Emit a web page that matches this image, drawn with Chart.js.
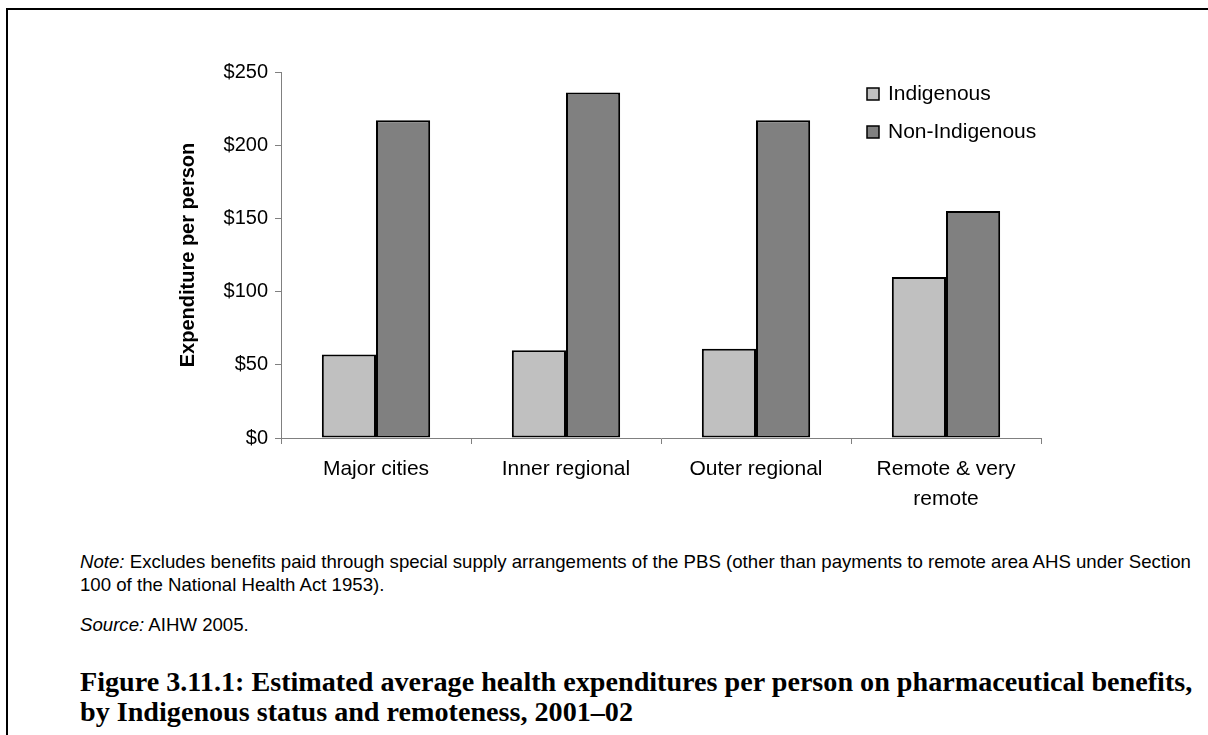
<!DOCTYPE html>
<html>
<head>
<meta charset="utf-8">
<script src="https://cdn.jsdelivr.net/npm/chart.js@4/dist/chart.umd.min.js"></script>
<style>
html,body{margin:0;padding:0;background:#fff;}
body{width:1208px;height:735px;position:relative;overflow:hidden;font-family:"Liberation Sans",Arial,sans-serif;color:#000;}
#frame{position:absolute;left:6px;top:8px;width:1220px;height:760px;border-left:2px solid #000;border-top:2px solid #000;}
#wrap{position:absolute;left:0;top:0;width:1208px;height:530px;}
.note{position:absolute;left:80px;font-size:18.5px;line-height:23px;white-space:nowrap;}
.note i{font-style:italic;}
#caption{position:absolute;left:80px;top:667px;font-family:"Liberation Serif",serif;font-weight:bold;font-size:24px;line-height:30px;white-space:nowrap;}
</style>
</head>
<body>
<div id="frame"></div>
<div id="wrap"><canvas id="c"></canvas></div>
<div class="note" id="note1" style="top:550px"><i>Note:</i> Excludes benefits paid through special supply arrangements of the PBS (other than payments to remote area AHS under Section<br>100 of the National Health Act 1953).</div>
<div class="note" id="note2" style="top:613px"><i>Source:</i> AIHW 2005.</div>
<div id="caption">Figure 3.11.1: Estimated average health expenditures per person on pharmaceutical benefits,<br>by Indigenous status and remoteness, 2001–02</div>
<script>
const categories = ["Major cities", "Inner regional", "Outer regional", ["Remote & very", "remote"]];
const seriesNames = ["Indigenous", "Non-Indigenous"];
const indigenous = [57, 60, 61, 110];
const nonIndigenous = [217, 236, 217, 155];
const yTicks = [0, 50, 100, 150, 200, 250];
const colors = ["#c0c0c0", "#808080"];

// fit the text block widths (text from x=80 to x=1193)
(function fitText() {
  const m = document.createElement('canvas').getContext('2d');
  const target = 1113;
  m.font = '16px "Liberation Sans"';
  const noteLine = 'Note: Excludes benefits paid through special supply arrangements of the PBS (other than payments to remote area AHS under Section';
  const ns = 16 * target / m.measureText(noteLine).width;
  document.getElementById('note1').style.fontSize = ns.toFixed(2) + 'px';
  document.getElementById('note2').style.fontSize = ns.toFixed(2) + 'px';
  m.font = 'bold 20px "Liberation Serif"';
  const capLine = 'Figure 3.11.1: Estimated average health expenditures per person on pharmaceutical benefits,';
  const cs = 20 * target / m.measureText(capLine).width;
  document.getElementById('caption').style.fontSize = cs.toFixed(2) + 'px';
})();

const legendPlugin = {
  id: 'insideLegend',
  afterDraw(chart) {
    const ctx = chart.ctx;
    ctx.save();
    ctx.font = '21px "Liberation Sans", Arial, sans-serif';
    ctx.textBaseline = 'middle';
    ctx.textAlign = 'left';
    chart.data.datasets.forEach((ds, i) => {
      const y = 94 + i * 38;
      ctx.fillStyle = ds.backgroundColor;
      ctx.fillRect(867, y - 6, 12, 12);
      ctx.strokeStyle = '#000';
      ctx.lineWidth = 1.5;
      ctx.strokeRect(867, y - 6, 12, 12);
      ctx.fillStyle = '#000';
      ctx.fillText(ds.label, 888, y);
    });
    ctx.restore();
  }
};

new Chart(document.getElementById('c'), {
  type: 'bar',
  data: {
    labels: categories,
    datasets: [
      { label: seriesNames[0], data: indigenous, backgroundColor: colors[0], borderColor: '#000', borderWidth: 2, borderSkipped: false },
      { label: seriesNames[1], data: nonIndigenous, backgroundColor: colors[1], borderColor: '#000', borderWidth: 2, borderSkipped: false }
    ]
  },
  options: {
    responsive: true,
    maintainAspectRatio: false,
    animation: false,
    devicePixelRatio: 1,
    layout: { padding: { left: 170, right: 167, top: 72, bottom: 22 } },
    datasets: { bar: { categoryPercentage: 0.57, barPercentage: 1.0 } },
    plugins: { legend: { display: false }, tooltip: { enabled: false } },
    scales: {
      x: {
        afterFit(s) { s.height = 70; },
        grid: { display: true, offset: true, drawOnChartArea: false, drawTicks: true, tickLength: 6, color: '#808080', lineWidth: 1 },
        border: { display: true, color: '#808080', width: 1 },
        ticks: { color: '#000', padding: 11, maxRotation: 0, autoSkip: false, font: { family: '"Liberation Sans", Arial, sans-serif', size: 21, lineHeight: 1.4 } }
      },
      y: {
        min: 0, max: 250,
        afterFit(s) { s.width = 111; },
        afterBuildTicks(s) { s.ticks = yTicks.map(v => ({ value: v })); },
        grid: { display: true, drawOnChartArea: false, drawTicks: true, tickLength: 6, color: '#808080', lineWidth: 1 },
        border: { display: true, color: '#808080', width: 1 },
        ticks: { color: '#000', padding: 7, font: { family: '"Liberation Sans", Arial, sans-serif', size: 20 }, callback: v => '$' + v },
        title: { display: true, text: 'Expenditure per person', color: '#000', padding: { top: 6, bottom: 0 }, font: { family: '"Liberation Sans", Arial, sans-serif', size: 20, weight: 'bold', lineHeight: 1.2 } }
      }
    }
  },
  plugins: [legendPlugin]
});
</script>
</body>
</html>
